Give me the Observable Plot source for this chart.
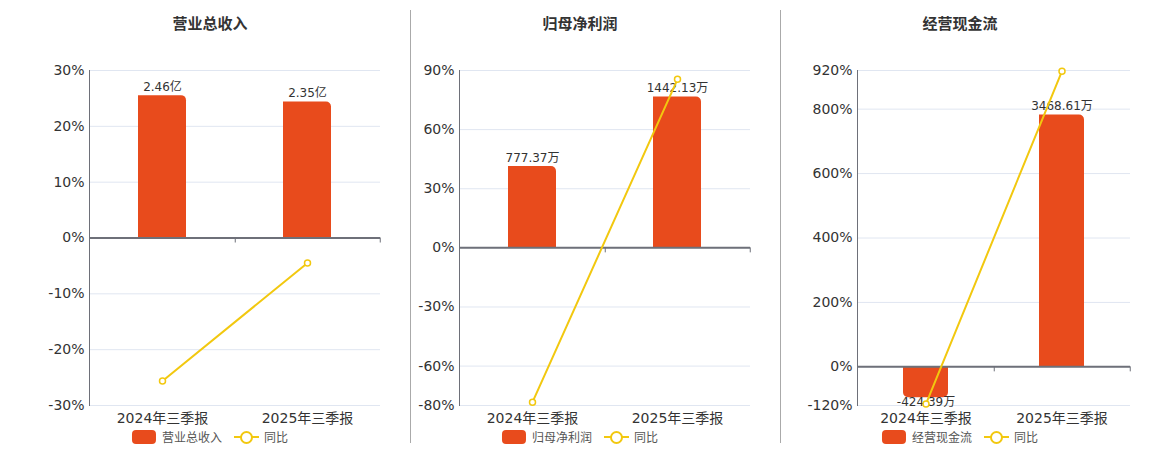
<!DOCTYPE html>
<html>
<head>
<meta charset="utf-8">
<script src="https://cdn.jsdelivr.net/npm/d3@7"></script>
<script src="https://cdn.jsdelivr.net/npm/@observablehq/plot@0.6"></script>
<style>
  html, body { margin: 0; padding: 0; background: #fff; }
  body { width: 1160px; height: 450px; position: relative; overflow: hidden;
         font-family: "DejaVu Sans", "Noto Sans CJK SC", sans-serif; }
  .panel { position: absolute; top: 0; height: 450px; }
  .title { position: absolute; top: 12px; transform: translateX(-50%); white-space: nowrap;
           font-family: "Noto Sans CJK SC", sans-serif; font-weight: bold; font-size: 15px; color: #333; }
  .layer { position: absolute; left: 0; top: 50px; }
  .legend { position: absolute; top: 428px; transform: translateX(-50%); white-space: nowrap;
            display: flex; align-items: center; font-family: "Noto Sans CJK SC", sans-serif; font-size: 12px; color: #555; }
  .sw-bar { width: 24px; height: 14px; border-radius: 4px; margin-right: 6px; }
  .sw-line { position: relative; width: 25px; height: 14px; margin-right: 5px; margin-left: 12px; }
  .sw-line .ln { position: absolute; left: 0; right: 0; top: 6px; height: 2px; }
  .sw-line .ci { position: absolute; left: 6px; top: 1px; width: 9px; height: 9px; border-radius: 50%; background: #fff; border: 2px solid; }
  .sep { position: absolute; top: 10px; width: 1px; height: 433px; background: #aaa; }
</style>
</head>
<body>
<script>
// ---------- data ----------
const categories = ["2024年三季报", "2025年三季报"];
const panelTitles = ["营业总收入", "归母净利润", "经营现金流"];
const yoyName = "同比";

const revenueValues = [2.46, 2.35];            // 亿
const revenueLabels = ["2.46亿", "2.35亿"];
const revenueYoY = [-25.6, -4.47];              // %
const revenueTicks = [30, 20, 10, 0, -10, -20, -30];

const profitValues = [777.37, 1442.13];         // 万
const profitLabels = ["777.37万", "1442.13万"];
const profitYoY = [-78.3, 85.5];
const profitTicks = [90, 60, 30, 0, -30, -60, -80];

const cashValues = [-424.39, 3468.61];          // 万
const cashLabels = ["-424.39万", "3468.61万"];
const cashYoY = [-115, 918];
const cashTicks = [920, 800, 600, 400, 200, 0, -120];

// ---------- styles / layout ----------
const barColor = "#E84B1C";
const lineColor = "#F2C80F";
const gridColor = "#E0E6F1";
const axisColor = "#6E7079";
const fill = 0.85; // fraction of upper half filled by the largest bar

const panels = [
  {title: panelTitles[0], values: revenueValues, labels: revenueLabels, yoy: revenueYoY, ticks: revenueTicks,
   left: 0, width: 410, marginLeft: 89, center: 210},
  {title: panelTitles[1], values: profitValues, labels: profitLabels, yoy: profitYoY, ticks: profitTicks,
   left: 410, width: 370, marginLeft: 49, center: 170},
  {title: panelTitles[2], values: cashValues, labels: cashLabels, yoy: cashYoY, ticks: cashTicks,
   left: 780, width: 380, marginLeft: 77, center: 180}
];

const H = 380, MT = 20, MB = 25, MR = 30;

panels.forEach((p, idx) => {
  const div = document.createElement("div");
  div.className = "panel";
  div.style.left = p.left + "px";
  div.style.width = p.width + "px";
  document.body.appendChild(div);

  const t = document.createElement("div");
  t.className = "title";
  t.style.left = p.center + "px";
  t.textContent = p.title;
  div.appendChild(t);

  const rows = categories.map((c, i) => ({cat: c, value: p.values[i], label: p.labels[i], yoy: p.yoy[i]}));
  const pctDomain = [d3.min(p.ticks), d3.max(p.ticks)];
  const barMax = d3.max(p.values) / fill;
  const barDomain = [barMax * pctDomain[0] / pctDomain[1], barMax];
  const frameW = p.width - p.marginLeft - MR;

  const common = {
    width: p.width, height: H, marginLeft: p.marginLeft, marginRight: MR, marginTop: MT, marginBottom: MB,
    style: {background: "transparent", fontFamily: "'DejaVu Sans', 'Noto Sans CJK SC', sans-serif", overflow: "visible"},
    x: {type: "band", domain: categories, paddingInner: 2/3, paddingOuter: 1/3}
  };

  // Layer A: grid, axes
  const A = Plot.plot({
    ...common,
    y: {domain: pctDomain},
    marks: [
      Plot.gridY(p.ticks, {stroke: gridColor, strokeOpacity: 1}),
      Plot.axisY(p.ticks, {tickSize: 0, tickPadding: 5, fontSize: 14, fill: "#333", tickFormat: d => d + "%", label: null}),
      Plot.axisX({tickSize: 0, tickPadding: 8, fontSize: 14, fill: "#333", label: null}),
      Plot.frame({anchor: "left", stroke: axisColor})
    ]
  });

  // Layer B: bars and their labels (own hidden scale)
  const B = Plot.plot({
    ...common,
    x: {...common.x, axis: null},
    y: {domain: barDomain, axis: null},
    marks: [
      Plot.barY(rows.filter(d => d.value >= 0), {x: "cat", y: "value", fill: barColor, ry1: 5, rx1: 0}),
      Plot.barY(rows.filter(d => d.value < 0), {x: "cat", y: "value", fill: barColor, ry2: 5}),
      Plot.text(rows.filter(d => d.value >= 0), {x: "cat", y: "value", text: "label", lineAnchor: "bottom", dy: -5, fontSize: 12, fill: "#333"}),
      Plot.text(rows.filter(d => d.value < 0), {x: "cat", y: "value", text: "label", lineAnchor: "top", dy: 0, fontSize: 12, fill: "#333"})
    ]
  });

  // Layer C: zero axis, boundary ticks, YoY line
  const C = Plot.plot({
    ...common,
    x: {...common.x, axis: null},
    y: {domain: pctDomain, axis: null},
    marks: [
      Plot.ruleY([0], {stroke: axisColor, strokeWidth: 2}),
      Plot.ruleX(categories, {x: d => d, y1: 0, y2: 0, insetBottom: -5, dx: frameW / 4, stroke: axisColor}),
      Plot.line(rows, {x: "cat", y: "yoy", stroke: lineColor, strokeWidth: 2}),
      Plot.dot(rows, {x: "cat", y: "yoy", r: 3, fill: "white", stroke: lineColor, strokeWidth: 1.5})
    ]
  });

  [A, B, C].forEach(svg => { svg.classList.add("layer"); div.appendChild(svg); });

  const lg = document.createElement("div");
  lg.className = "legend";
  lg.style.left = p.center + "px";
  lg.innerHTML = `<div class="sw-bar" style="background:${barColor}"></div><span>${p.title}</span>` +
    `<div class="sw-line"><div class="ln" style="background:${lineColor}"></div><div class="ci" style="border-color:${lineColor}"></div></div><span>${yoyName}</span>`;
  div.appendChild(lg);

  if (idx > 0) {
    const s = document.createElement("div");
    s.className = "sep";
    s.style.left = p.left + "px";
    document.body.appendChild(s);
  }
});
</script>
</body>
</html>
